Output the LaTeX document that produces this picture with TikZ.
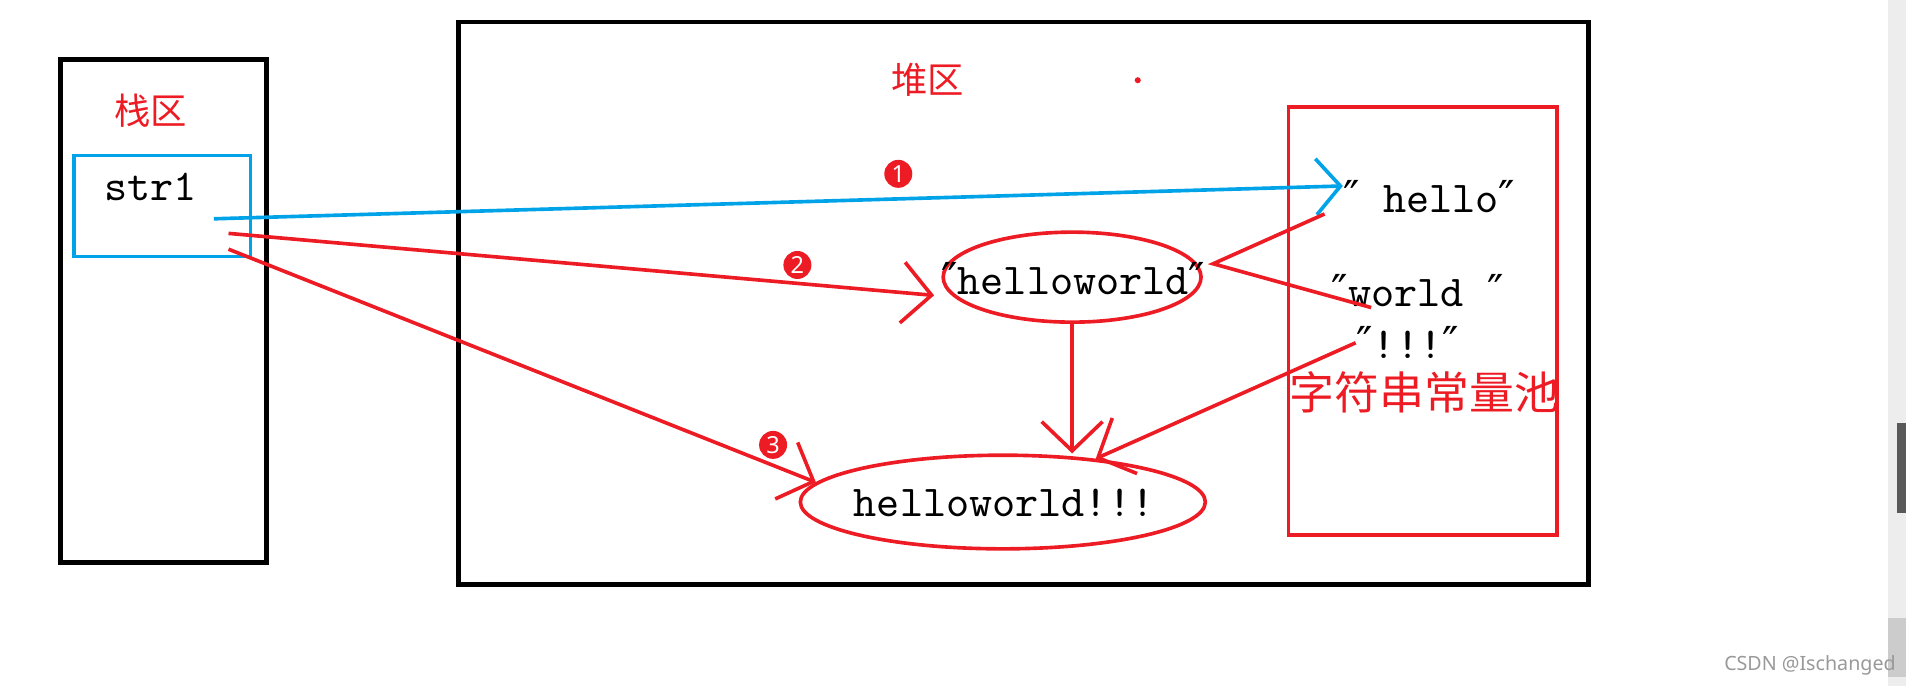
\documentclass[tikz,border=0pt]{standalone}
\usepackage{fontspec}
\usepackage{xcolor}
\usepackage{tikz}
\usetikzlibrary{arrows.meta,positioning,shapes.geometric}
\newfontfamily\cjk{Noto Sans CJK SC}
\newfontfamily\symfont{DejaVu Sans}
\newfontfamily\markfont{Noto Sans}
\definecolor{paintred}{RGB}{237,28,36}
\definecolor{paintblue}{RGB}{0,162,232}
\newcommand{\qmark}{{\symfont ″}}
\tikzset{
  area/.style={
    draw=black,
    line width=1.1pt
  },
  poolbox/.style={
    draw=paintred,
    line width=0.9pt
  },
  code/.style={
    font=\ttfamily\fontsize{10.3}{12}\selectfont,
    inner sep=0pt
  },
  cjklabel/.style={
    font=\cjk\fontsize{8.5}{10}\selectfont,
    text=paintred,
    inner sep=0pt
  },
  strbox/.style={
    draw=paintblue,
    line width=0.9pt,
    minimum width=1.45cm,
    minimum height=0.83cm,
    inner sep=0pt
  },
  strnode/.style={
    ellipse,
    draw=paintred,
    line width=0.85pt,
    inner sep=0pt
  },
  stepnum/.style={
    circle,
    fill=paintred,
    text=white,
    inner sep=0pt,
    minimum size=0.23cm,
    font=\markfont\fontsize{5.5}{5.5}\selectfont
  },
  bluearrow/.style={
    draw=paintblue,
    line width=0.85pt,
    -{Straight Barb[length=2mm,width=4.6mm]}
  },
  redarrow/.style={
    draw=paintred,
    line width=0.85pt,
    -{Straight Barb[length=2.4mm,width=5mm]}
  },
  redline/.style={
    draw=paintred,
    line width=0.85pt
  }
}

\begin{document}
\begin{tikzpicture}[x=0.01cm, y=-0.01cm]
  \useasboundingbox (0,0) rectangle (1568,564);

  % Scroll bar
  \fill[black!7] (1553,0) rectangle (1568,564);
  \fill[black!65] (1561,348) rectangle (1568,422);
  \fill[black!20] (1553,508) rectangle (1568,557);

  % Stack area
  \draw[area] (50,49) rectangle (219,463);
  \node[cjklabel] (stacklbl) at (124,91) {栈区};
  \node[strbox] (str) at (133.5,169.5) {};
  \node[code] (strname) at (124,154) {str1};
  \coordinate (p1) at (176,180);
  \coordinate (p2) at (188,192);
  \coordinate (p3) at (188,205);

  % Heap area
  \draw[area] (377,18) rectangle (1307,481);
  \node[cjklabel] (heaplbl) at (763,66) {堆区};
  \fill[paintred] (936,66) circle[radius=0.025cm];

  % String pool
  \draw[poolbox] (1060,88) rectangle (1281,440);
  \node[code] (hello) at (1176,162) {\qmark\ hello\qmark};
  \node[code, anchor=west] (world) at (1095,239) {\qmark world\ \qmark};
  \node[code] (bang) at (1158,282) {\qmark!!!\qmark};
  \node[cjklabel, font=\cjk\fontsize{10.5}{12}\selectfont] (poollbl) at (1172,323) {字符串常量池};

  % Strings on the heap
  \node[strnode, minimum width=2.12cm, minimum height=0.74cm] (hw) at (882,228) {};
  \node[code] (hwtxt) at (883,229) {\qmark helloworld\qmark};
  \node[strnode, minimum width=3.33cm, minimum height=0.77cm] (hw3) at (825,413) {};
  \node[code] (hw3txt) at (826,414) {helloworld!!!};

  % Steps
  \node[stepnum] (n1) at (739,143) {1};
  \node[stepnum] (n2) at (656,218) {2};
  \node[stepnum] (n3) at (636,366) {3};

  % Pointers
  \draw[bluearrow] (p1) -- ([yshift=0.09cm]hello.west);
  \draw[redarrow] (p2) -- ([xshift=-0.06cm,yshift=-0.15cm]hw.west);
  \draw[redarrow] (p3) -- (hw3.174);
  \coordinate (tip) at (998,217);
  \draw[redline] ([xshift=-0.15cm]hello.south west) -- (tip) -- ([xshift=0.33cm]world.south west);
  \draw[redarrow] (hw.south) -- (hw.south |- hw3.north);
  \draw[redarrow] (bang.west) -- (hw3.25);

  % Watermark
  \node[font=\markfont\fontsize{4.6}{5}\selectfont, text=black!40, inner sep=0pt] (mark) at (1489,547) {CSDN @Ischanged};
\end{tikzpicture}
\end{document}
